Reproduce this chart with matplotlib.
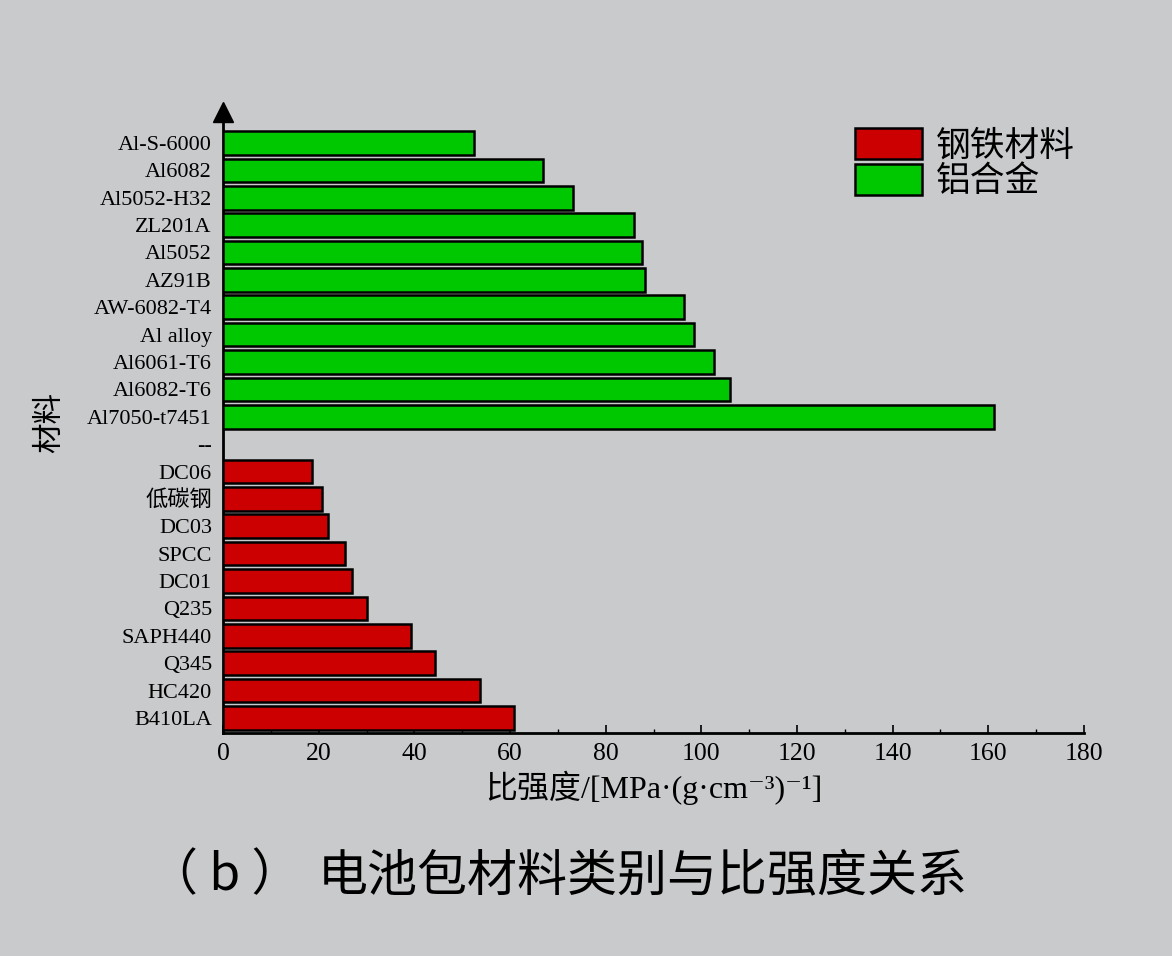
import matplotlib
matplotlib.use("Agg")
import matplotlib.pyplot as plt
from matplotlib.patches import Patch

# ---- data ----
steel_names = ["B410LA", "HC420", "Q345", "SAPH440", "Q235", "DC01", "SPCC", "DC03", "低碳钢", "DC06"]
steel_vals = [60.8, 53.8, 44.3, 39.2, 30.1, 27.0, 25.6, 22.0, 20.7, 18.7]
gap_label = "--"
al_names = ["Al7050-t7451", "Al6082-T6", "Al6061-T6", "Al alloy", "AW-6082-T4", "AZ91B",
            "Al5052", "ZL201A", "Al5052-H32", "Al6082", "Al-S-6000"]
al_vals = [161.2, 105.9, 102.6, 98.5, 96.3, 88.2, 87.5, 85.9, 73.1, 66.8, 52.5]
legend_labels = ["钢铁材料", "铝合金"]
x_ticks = [0, 20, 40, 60, 80, 100, 120, 140, 160, 180]
x_label = "比强度/[MPa·(g·cm⁻³)⁻¹]"
y_label = "材料"
caption_tag = "（ b ）"
caption_text = "电池包材料类别与比强度关系"

BG = "#c9cacc"
RED = "#cc0000"
GREEN = "#00c800"
SERIF = ["Liberation Serif", "DejaVu Serif", "Noto Sans CJK SC"]
CJK = ["Noto Sans CJK SC", "DejaVu Sans"]

fig = plt.figure(figsize=(11.72, 9.56), dpi=100, facecolor=BG)
ax = fig.add_axes([0.1903, 0.2333, 0.7346, 0.6495])
ax.set_facecolor(BG)

n_steel = len(steel_names)
steel_pos = list(range(n_steel))
gap_pos = n_steel
al_pos = [n_steel + 1 + i for i in range(len(al_names))]

bh = 0.86
ax.barh(steel_pos, steel_vals, height=bh, color=RED, edgecolor="black", linewidth=1.8, zorder=3)
ax.barh(al_pos, al_vals, height=bh, color=GREEN, edgecolor="black", linewidth=1.8, zorder=3)

ax.set_yticks(steel_pos + [gap_pos] + al_pos)
ax.set_yticklabels(steel_names + [gap_label] + al_names, family=SERIF, fontsize=16)
ax.tick_params(axis="y", length=0, pad=8)

ax.set_xlim(0, 180)
ax.set_ylim(-0.55, 22.13)
ax.set_xticks(x_ticks)
ax.set_xticklabels([str(t) for t in x_ticks], family=SERIF, fontsize=18.5)
ax.set_xticks(range(10, 180, 20), minor=True)
ax.tick_params(axis="x", which="major", direction="in", length=6, width=1.2, pad=7)
ax.tick_params(axis="x", which="minor", direction="in", length=3, width=1.0)

for s in ["top", "right"]:
    ax.spines[s].set_visible(False)
ax.spines["left"].set_linewidth(2.0)
ax.spines["bottom"].set_linewidth(2.0)

# arrow on top of y axis
ax.plot([0], [1.0], marker="^", markersize=15, color="black", transform=ax.transAxes,
        clip_on=False, zorder=5)

ax.set_xlabel(x_label, family=SERIF, fontsize=23, labelpad=4)
ax.set_ylabel(y_label, family=CJK, fontsize=22, labelpad=16)

handles = [Patch(facecolor=RED, edgecolor="black", linewidth=1.8),
           Patch(facecolor=GREEN, edgecolor="black", linewidth=1.8)]
leg = ax.legend(handles, legend_labels, loc="upper left", bbox_to_anchor=(0.734, 0.974),
                frameon=False, prop={"family": CJK, "size": 25},
                handlelength=1.93, handleheight=1.0, handletextpad=0.4, labelspacing=0.0,
                borderpad=0, borderaxespad=0)

fig.text(225 / 1172, 0.0837, caption_tag, family=CJK, fontsize=36, ha="center", va="center")
fig.text(318 / 1172, 0.0837, caption_text, family=CJK, fontsize=36, ha="left", va="center")

fig.savefig("out.png", dpi=100, facecolor=BG)
